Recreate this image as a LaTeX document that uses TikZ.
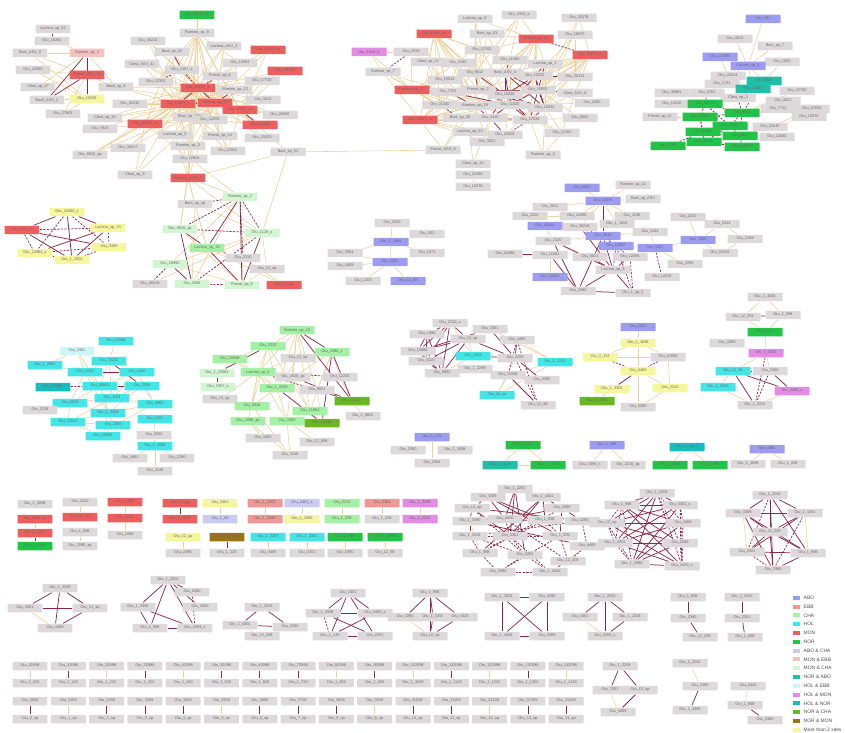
\documentclass[tikz,border=0pt]{standalone}
\usepackage{fontspec}
\setmainfont{Liberation Sans}
\usetikzlibrary{backgrounds}

\definecolor{cgray}{HTML}{DDD9DB}
\definecolor{cabo}{HTML}{9C9CF0}
\definecolor{cebb}{HTML}{F29696}
\definecolor{ccha}{HTML}{A4F0A4}
\definecolor{chol}{HTML}{42E6E6}
\definecolor{cmon}{HTML}{EE5E5E}
\definecolor{cnor}{HTML}{22C447}
\definecolor{cabocha}{HTML}{CBCBF2}
\definecolor{cmonebb}{HTML}{F5C2C2}
\definecolor{cmoncha}{HTML}{D2F6D2}
\definecolor{cnorabo}{HTML}{1FBFA8}
\definecolor{cholebb}{HTML}{CFF6F6}
\definecolor{cholmon}{HTML}{E58AE5}
\definecolor{cholnor}{HTML}{18BDBF}
\definecolor{cnorcha}{HTML}{6AB820}
\definecolor{cnormon}{HTML}{9A7414}
\definecolor{cmulti}{HTML}{F6F69C}
\definecolor{cpos}{HTML}{EFCF98}
\definecolor{cneg}{HTML}{8E2747}

\begin{document}
\begin{tikzpicture}[
    x=0.02cm, y=-0.02cm,
    tx/.style={rounded corners=0.4pt, minimum width=0.7cm, minimum height=0.17cm, inner sep=0.3pt, font=\fontsize{2.2}{2.4}\selectfont, text=black!60},
    plain/.style={tx, fill=cgray},
    abo/.style={tx, fill=cabo},
    ebb/.style={tx, fill=cebb},
    cha/.style={tx, fill=ccha},
    hol/.style={tx, fill=chol},
    mon/.style={tx, fill=cmon},
    nor/.style={tx, fill=cnor},
    abocha/.style={tx, fill=cabocha},
    monebb/.style={tx, fill=cmonebb},
    moncha/.style={tx, fill=cmoncha},
    norabo/.style={tx, fill=cnorabo},
    holebb/.style={tx, fill=cholebb},
    holmon/.style={tx, fill=cholmon},
    holnor/.style={tx, fill=cholnor},
    norcha/.style={tx, fill=cnorcha},
    normon/.style={tx, fill=cnormon},
    multi/.style={tx, fill=cmulti},
    lnpos/.style={draw=cpos, line width=0.32pt},
    lnneg/.style={draw=cneg, line width=0.42pt},
    lnnegd/.style={lnneg, dash pattern=on 1.2pt off 0.8pt},
    swatch/.style={fill=#1, minimum width=0.14cm, minimum height=0.08cm, inner sep=0pt},
    legtext/.style={anchor=west, inner sep=0.5pt, font=\fontsize{2.8}{3.2}\selectfont, text=black!70}
]
\useasboundingbox (0,0) rectangle (845,733);

% cluster A
\node[plain] (a1) at (53,29) {Lachno\_sp\_52};
\node[plain] (a2) at (52,41) {Otu\_18281};
\node[monebb] (a3) at (87,53) {Rumino\_sp\_4};
\node[plain] (a4) at (30,53) {Bact\_ASV\_9};
\node[plain] (a5) at (33,70) {Otu\_12583};
\node[mon] (a6) at (87,75) {Prevot\_ASV\_31};
\node[plain] (a7) at (38,87) {Clost\_sp\_17};
\node[plain] (a8) at (47,100) {Bacil\_ASV\_2};
\node[multi] (a9) at (87,99) {Otu\_10293};
\node[plain] (a10) at (63,114) {Otu\_27801};

% cluster B
\node[nor] (b1) at (197,15) {Otu\_3318\_na};
\node[plain] (b2) at (197,33) {Rumino\_sp\_8};
\node[plain] (b3) at (148,41) {Otu\_40213};
\node[plain] (b4) at (224,46) {Lachno\_ASV\_3};
\node[mon] (b5) at (268,50) {Otu\_20119\_m};
\node[plain] (b6) at (172,52) {Bact\_sp\_22};
\node[plain] (b7) at (240,63) {Otu\_11584};
\node[plain] (b8) at (142,64) {Clost\_ASV\_41};
\node[plain] (b9) at (182,70) {Otu\_2107\_s};
\node[mon] (b10) at (285,71) {Otu\_30218};
\node[plain] (b11) at (220,76) {Prevot\_sp\_6};
\node[plain] (b12) at (156,82) {Otu\_13302};
\node[plain] (b13) at (262,81) {Otu\_17720};
\node[plain] (b14) at (116,87) {Bacil\_sp\_9};
\node[mon] (b15) at (198,88) {Otu\_10881\_m};
\node[plain] (b16) at (235,90) {Rumino\_sp\_12};
\node[mon] (b17) at (178,104) {Otu\_11891\_s};
\node[mon] (b18) at (215,103) {Lachno\_sp\_70};
\node[plain] (b19) at (263,100) {Otu\_3512};
\node[plain] (b20) at (130,104) {Otu\_42310};
\node[mon] (b21) at (240,110) {Otu\_12397\_m};
\node[plain] (b22) at (190,117) {Bact\_sp\_ASV};
\node[plain] (b23) at (210,120) {Otu\_12250};
\node[plain] (b24) at (280,115) {Otu\_29402};
\node[plain] (b25) at (105,118) {Clost\_sp\_30};
\node[mon] (b26) at (145,124) {Otu\_11021\_m};
\node[plain] (b27) at (100,129) {Otu\_7014};
\node[mon] (b28) at (260,125) {Otu\_12845};
\node[plain] (b29) at (175,135) {Lachno\_sp\_5};
\node[plain] (b30) at (220,136) {Prevot\_sp\_14};
\node[plain] (b31) at (262,138) {Otu\_15520};
\node[plain] (b32) at (188,146) {Rumino\_sp\_3};
\node[plain] (b33) at (128,148) {Otu\_30017};
\node[plain] (b34) at (228,151) {Otu\_12001};
\node[plain] (b35) at (288,152) {Bact\_sp\_51};
\node[plain] (b36) at (90,155) {Otu\_6623\_sp};
\node[plain] (b37) at (190,159) {Otu\_12904};
\node[plain] (b38) at (135,175) {Clost\_sp\_8};
\node[mon] (b39) at (188,178) {Rumino\_ASV\_2};

% cluster C
\node[plain] (c1) at (519,15) {Otu\_3310\_s};
\node[plain] (c2) at (475,19) {Lachno\_sp\_9};
\node[plain] (c3) at (579,18) {Otu\_20178};
\node[mon] (c4) at (434,34) {Otu\_11942\_m};
\node[plain] (c5) at (487,34) {Bact\_sp\_63};
\node[mon] (c6) at (536,39) {Prevot\_sp\_41};
\node[plain] (c7) at (575,35) {Otu\_18870};
\node[holmon] (c8) at (369,52) {Otu\_1038\_h};
\node[plain] (c9) at (411,52) {Otu\_2219};
\node[plain] (c10) at (482,50) {Otu\_12702};
\node[mon] (c11) at (590,55) {Otu\_10442\_m};
\node[plain] (c12) at (428,62) {Clost\_sp\_12};
\node[plain] (c13) at (383,72) {Rumino\_sp\_7};
\node[plain] (c14) at (458,63) {Otu\_4102};
\node[plain] (c15) at (510,60) {Otu\_11380};
\node[plain] (c16) at (545,64) {Lachno\_sp\_1};
\node[plain] (c17) at (475,73) {Otu\_9012};
\node[plain] (c18) at (505,73) {Bact\_ASV\_4};
\node[plain] (c19) at (535,76) {Otu\_12203};
\node[plain] (c20) at (575,77) {Otu\_30114};
\node[plain] (c21) at (445,80) {Otu\_15512};
\node[mon] (c22) at (412,90) {Lachno\_sp\_33};
\node[plain] (c23) at (448,92) {Otu\_7731};
\node[plain] (c24) at (478,90) {Prevot\_sp\_2};
\node[plain] (c25) at (505,95) {Otu\_12240};
\node[plain] (c26) at (538,90) {Otu\_10051};
\node[plain] (c27) at (575,93) {Clost\_ASV\_6};
\node[plain] (c28) at (592,103) {Otu\_2280};
\node[plain] (c29) at (440,105) {Otu\_21330};
\node[plain] (c30) at (475,106) {Rumino\_sp\_19};
\node[plain] (c31) at (510,105) {Otu\_11820};
\node[plain] (c32) at (545,108) {Otu\_12931};
\node[mon] (c33) at (420,120) {Otu\_10917\_m};
\node[plain] (c34) at (460,118) {Bact\_sp\_30};
\node[plain] (c35) at (490,118) {Otu\_4410};
\node[plain] (c36) at (530,120) {Otu\_17034};
\node[plain] (c37) at (580,118) {Otu\_6602};
\node[plain] (c38) at (470,132) {Lachno\_sp\_21};
\node[plain] (c39) at (505,135) {Otu\_19204};
\node[plain] (c40) at (562,133) {Otu\_11301};
\node[plain] (c41) at (443,150) {Prevot\_ASV\_8};
\node[plain] (c42) at (487,142) {Otu\_3021};
\node[plain] (c43) at (473,164) {Clost\_sp\_44};
\node[plain] (c44) at (473,175) {Otu\_21093};
\node[plain] (c45) at (473,187) {Otu\_12276};
\node[plain] (c46) at (543,155) {Rumino\_sp\_5};

% cluster D
\node[abo] (d1) at (763,19) {Otu\_331};
\node[plain] (d2) at (735,39) {Otu\_4012};
\node[plain] (d3) at (775,46) {Bact\_sp\_7};
\node[abo] (d4) at (720,57) {Otu\_12208};
\node[plain] (d5) at (782,62) {Otu\_1093};
\node[abo] (d6) at (748,66) {Lachno\_sp\_4};
\node[plain] (d7) at (728,76) {Otu\_22014};
\node[norabo] (d8) at (764,81) {Otu\_5510};
\node[plain] (d9) at (722,84) {Otu\_1722};
\node[norabo] (d10) at (753,89) {Otu\_11087};
\node[plain] (d11) at (672,93) {Otu\_30981};
\node[plain] (d12) at (707,93) {Otu\_2201};
\node[plain] (d13) at (797,91) {Otu\_12750};
\node[plain] (d14) at (738,98) {Clost\_sp\_2};
\node[plain] (d15) at (672,104) {Otu\_13310};
\node[nor] (d16) at (705,104) {Otu\_10372};
\node[plain] (d17) at (783,101) {Otu\_4021};
\node[plain] (d18) at (812,109) {Otu\_12030};
\node[nor] (d19) at (742,113) {Otu\_6614};
\node[plain] (d20) at (778,109) {Otu\_7712};
\node[plain] (d21) at (660,117) {Prevot\_sp\_11};
\node[nor] (d22) at (700,117) {Otu\_11903};
\node[plain] (d23) at (809,117) {Otu\_12870};
\node[nor] (d24) at (730,126) {Otu\_3304};
\node[plain] (d25) at (770,127) {Otu\_21042};
\node[nor] (d26) at (703,132) {Otu\_1550};
\node[nor] (d27) at (740,136) {Otu\_9931};
\node[plain] (d28) at (777,137) {Otu\_12093};
\node[nor] (d29) at (668,146) {Otu\_3001};
\node[nor] (d30) at (704,142) {Otu\_2014};
\node[nor] (d31) at (742,147) {Otu\_19087};

% cluster E
\node[multi] (e1) at (67,212) {Otu\_10288\_s};
\node[mon] (e2) at (22,230) {Otu\_1102\_m};
\node[multi] (e3) at (108,228) {Lachno\_sp\_13};
\node[multi] (e4) at (35,253) {Otu\_12984\_s};
\node[multi] (e5) at (109,247) {Otu\_3309};
\node[multi] (e6) at (72,260) {Otu\_1\_2201};

% cluster F
\node[plain] (f1) at (195,204) {Bact\_sp\_sp};
\node[moncha] (f2) at (240,197) {Rumino\_sp\_2};
\node[moncha] (f3) at (180,229) {Otu\_8810\_sp};
\node[moncha] (f4) at (262,233) {Otu\_1129\_s};
\node[cha] (f5) at (207,248) {Lachno\_sp\_18};
\node[plain] (f6) at (243,258) {Otu\_2210};
\node[moncha] (f7) at (170,264) {Otu\_10991};
\node[plain] (f8) at (267,269) {Otu\_12\_sp};
\node[plain] (f9) at (150,284) {Otu\_40019};
\node[moncha] (f10) at (192,284) {Otu\_3308};
\node[moncha] (f11) at (242,285) {Prevot\_sp\_8};
\node[mon] (f12) at (284,285) {Otu\_20\_sp};

% cluster G
\node[plain] (g1) at (392,223) {Otu\_3310};
\node[abo] (g2) at (391,242) {Otu\_1\_1088};
\node[plain] (g3) at (427,234) {Otu\_552};
\node[plain] (g4) at (345,253) {Otu\_2904};
\node[plain] (g5) at (427,253) {Otu\_1071};
\node[abo] (g6) at (390,262) {Otu\_3301};
\node[plain] (g7) at (345,266) {Otu\_4409};
\node[plain] (g8) at (363,281) {Otu\_1203};
\node[abo] (g9) at (408,281) {Otu\_12\_88};

% cluster H
\node[abo] (h1) at (582,188) {Otu\_5501};
\node[plain] (h2) at (633,185) {Rumino\_sp\_41};
\node[abo] (h3) at (603,201) {Otu\_10293};
\node[plain] (h4) at (643,199) {Bact\_sp\_ASV};
\node[plain] (h5) at (550,207) {Otu\_3012};
\node[plain] (h6) at (530,216) {Otu\_2220};
\node[plain] (h7) at (577,216) {Otu\_12090};
\node[plain] (h8) at (632,216) {Otu\_1108};
\node[abo] (h9) at (545,226) {Otu\_12044};
\node[plain] (h10) at (580,227) {Otu\_30218};
\node[plain] (h11) at (617,224) {Otu\_1\_1002};
\node[abo] (h12) at (603,236) {Otu\_9910};
\node[plain] (h13) at (553,241) {Otu\_2120};
\node[plain] (h14) at (650,232) {Otu\_1204};
\node[abo] (h15) at (616,246) {Otu\_10887};
\node[abo] (h16) at (655,248) {Otu\_3307};
\node[plain] (h17) at (505,254) {Otu\_11098};
\node[plain] (h18) at (550,255) {Otu\_11002};
\node[plain] (h19) at (590,257) {Otu\_4021};
\node[plain] (h20) at (630,257) {Otu\_12206};
\node[plain] (h21) at (685,264) {Otu\_2209};
\node[plain] (h22) at (613,270) {Lachno\_sp\_3};
\node[abo] (h23) at (550,277) {Otu\_10331};
\node[plain] (h24) at (662,277) {Otu\_12010};
\node[plain] (h25) at (578,291) {Otu\_3390};
\node[plain] (h26) at (633,293) {Otu\_1\_sp\_2};

% cluster I
\node[plain] (i1) at (688,217) {Otu\_2210};
\node[plain] (i2) at (722,224) {Otu\_1044};
\node[abo] (i3) at (698,240) {Otu\_3380};
\node[plain] (i4) at (745,239) {Otu\_2109};
\node[plain] (i5) at (720,253) {Otu\_10432};

% cluster J
\node[hol] (j1) at (116,341) {Otu\_12098};
\node[holebb] (j2) at (77,351) {Otu\_3301};
\node[hol] (j3) at (109,361) {Otu\_10221};
\node[hol] (j4) at (45,365) {Otu\_1\_0982};
\node[hol] (j5) at (85,372) {Otu\_2210};
\node[hol] (j6) at (137,372) {Otu\_4410};
\node[holnor] (j7) at (53,387) {Otu\_12093};
\node[hol] (j8) at (100,386) {Otu\_30881};
\node[hol] (j9) at (142,386) {Otu\_2208};
\node[hol] (j10) at (112,398) {Otu\_1103};
\node[hol] (j11) at (70,403) {Otu\_5520};
\node[hol] (j12) at (155,404) {Otu\_9902};
\node[plain] (j13) at (40,410) {Otu\_2119};
\node[hol] (j14) at (108,413) {Otu\_1\_3309};
\node[hol] (j15) at (68,422) {Otu\_12041};
\node[hol] (j16) at (113,425) {Otu\_3306};
\node[hol] (j17) at (155,419) {Otu\_1201};
\node[hol] (j18) at (103,436) {Otu\_10982};
\node[plain] (j19) at (154,435) {Otu\_2030};
\node[hol] (j20) at (155,446) {Otu\_1\_1098};
\node[plain] (j21) at (130,458) {Otu\_4401};
\node[plain] (j22) at (177,458) {Otu\_2290};
\node[plain] (j23) at (155,471) {Otu\_1109};

% cluster K
\node[cha] (k1) at (297,330) {Rumino\_sp\_10};
\node[cha] (k2) at (268,346) {Otu\_2210};
\node[cha] (k3) at (230,359) {Otu\_10998};
\node[cha] (k4) at (332,352) {Otu\_3390\_s};
\node[plain] (k5) at (298,358) {Otu\_12\_sp};
\node[cha] (k6) at (258,372) {Lachno\_sp\_8};
\node[moncha] (k7) at (217,373) {Otu\_1\_20981};
\node[plain] (k8) at (293,377) {Otu\_4420\_sp};
\node[plain] (k9) at (340,377) {Otu\_12203};
\node[moncha] (k10) at (218,387) {Otu\_3307\_s};
\node[cha] (k11) at (277,388) {Otu\_1\_2209};
\node[plain] (k12) at (317,390) {Otu\_9021};
\node[plain] (k13) at (220,399) {Otu\_10\_sp};
\node[norcha] (k14) at (352,401) {Otu\_2219\_s};
\node[cha] (k15) at (252,406) {Otu\_3018};
\node[cha] (k16) at (310,411) {Otu\_11904};
\node[plain] (k17) at (363,416) {Otu\_2\_8801};
\node[cha] (k18) at (248,421) {Otu\_1098\_sp};
\node[cha] (k19) at (287,421) {Otu\_3390};
\node[norcha] (k20) at (322,423) {Otu\_12288};
\node[plain] (k21) at (263,438) {Otu\_4402};
\node[plain] (k22) at (317,442) {Otu\_12\_098};
\node[plain] (k23) at (290,455) {Otu\_3110};

% cluster L
\node[plain] (l1) at (450,323) {Otu\_2210\_s};
\node[plain] (l2) at (427,334) {Otu\_1098};
\node[plain] (l3) at (490,329) {Otu\_3301};
\node[plain] (l4) at (468,339) {Otu\_12\_sp};
\node[plain] (l5) at (517,340) {Otu\_4490};
\node[plain] (l6) at (418,351) {Otu\_10882};
\node[hol] (l7) at (473,356) {Otu\_1203};
\node[plain] (l8) at (515,358) {Otu\_2209};
\node[hol] (l9) at (555,362) {Otu\_1\_3370};
\node[plain] (l10) at (426,361) {Otu\_3310};
\node[plain] (l11) at (475,369) {Otu\_1\_2299};
\node[plain] (l12) at (442,373) {Otu\_9902};
\node[plain] (l13) at (508,375) {Otu\_12208};
\node[plain] (l14) at (542,380) {Otu\_2290};
\node[hol] (l15) at (497,395) {Otu\_10\_sp};
\node[plain] (l16) at (538,405) {Otu\_12\_98};

% cluster M
\node[abo] (m1) at (638,327) {Otu\_2201};
\node[multi] (m2) at (638,343) {Otu\_1\_1098};
\node[multi] (m3) at (600,357) {Otu\_3\_112};
\node[plain] (m4) at (668,357) {Otu\_12093};
\node[multi] (m5) at (638,371) {Otu\_4409};
\node[multi] (m6) at (612,389) {Otu\_1\_3301};
\node[multi] (m7) at (670,388) {Otu\_2210};
\node[norcha] (m8) at (597,401) {Otu\_1\_2091};
\node[plain] (m9) at (638,407) {Otu\_3390};

% cluster N
\node[plain] (n1) at (765,297) {Otu\_1\_1020};
\node[plain] (n2) at (743,317) {Otu\_12\_203};
\node[plain] (n3) at (783,315) {Otu\_1\_998};
\node[nor] (n4) at (765,332) {Otu\_2210};
\node[plain] (n5) at (727,343) {Otu\_3309};
\node[holmon] (n6) at (766,353) {Otu\_1\_4401};
\node[hol] (n7) at (733,371) {Otu\_12\_09};
\node[plain] (n8) at (770,371) {Otu\_2208};
\node[hol] (n9) at (718,387) {Otu\_1\_3320};
\node[holmon] (n10) at (792,391) {Otu\_4490\_s};
\node[plain] (n11) at (755,405) {Otu\_1\_2201};

% row of small groups
\node[abo] (p1) at (432,437) {Otu\_1\_203};
\node[plain] (p2) at (408,450) {Otu\_2290};
\node[plain] (p3) at (455,450) {Otu\_1\_1098};
\node[plain] (p4) at (432,463) {Otu\_3304};
\node[nor] (q1) at (523,445) {Otu\_1\_2201};
\node[norabo] (q2) at (500,465) {Otu\_4\_sp\_8};
\node[nor] (q3) at (548,465) {Otu\_12\_209};
\node[abo] (r1) at (607,445) {Otu\_1\_998};
\node[plain] (r2) at (590,465) {Otu\_3390\_s};
\node[plain] (r3) at (628,465) {Otu\_2210\_sp};
\node[holnor] (s1) at (687,447) {Otu\_3\_sp\_2};
\node[nor] (s2) at (670,465) {Otu\_1\_2203};
\node[nor] (s3) at (710,465) {Otu\_1\_790};
\node[abo] (t1) at (767,449) {Otu\_4401};
\node[plain] (t2) at (748,464) {Otu\_1\_1098};
\node[plain] (t3) at (788,464) {Otu\_1\_209};

% left columns
\node[plain] (u1) at (35,504) {Otu\_1\_2098};
\node[mon] (u2) at (35,519) {Otu\_3309\_m};
\node[mon] (u3) at (35,533) {Otu\_1\_2201};
\node[nor] (u4) at (35,546) {Otu\_1\_4409};
\node[plain] (u5) at (80,502) {Otu\_2210};
\node[mon] (u6) at (80,517) {Otu\_10\_sp};
\node[plain] (u7) at (80,532) {Otu\_1\_098};
\node[plain] (u8) at (80,546) {Otu\_3390\_sp};
\node[mon] (u9) at (125,502) {Otu\_1\_203};
\node[mon] (u10) at (125,518) {Otu\_4420};
\node[plain] (u11) at (125,535) {Otu\_1098};

% pairs
\node[mon] (v1) at (180,503) {Otu\_12\_sp};
\node[mon] (v2) at (180,519) {Otu\_1\_2209};
\node[multi] (v3) at (220,503) {Otu\_3301};
\node[abocha] (v4) at (220,519) {Otu\_1\_09};
\node[ebb] (v5) at (265,503) {Otu\_1\_2203};
\node[ebb] (v6) at (265,519) {Otu\_1\_2098};
\node[abocha] (v7) at (302,503) {Otu\_4401\_s};
\node[multi] (v8) at (302,519) {Otu\_1\_3390};
\node[cha] (v9) at (342,503) {Otu\_2210};
\node[cha] (v10) at (342,519) {Otu\_1\_209};
\node[ebb] (v11) at (382,503) {Otu\_3304};
\node[plain] (v12) at (382,519) {Otu\_1\_209};
\node[holmon] (v13) at (420,503) {Otu\_1\_4409};
\node[holmon] (v14) at (420,519) {Otu\_1\_2201};
\node[multi] (v15) at (183,537) {Otu\_12\_sp};
\node[plain] (v16) at (183,553) {Otu\_2298};
\node[normon] (v17) at (227,537) {Otu\_3309\_s};
\node[plain] (v18) at (227,553) {Otu\_1\_120};
\node[hol] (v19) at (268,537) {Otu\_1\_2203};
\node[plain] (v20) at (268,553) {Otu\_4409};
\node[hol] (v21) at (307,537) {Otu\_1\_3301};
\node[plain] (v22) at (307,553) {Otu\_2201};
\node[nor] (v23) at (345,537) {Otu\_1\_998};
\node[plain] (v24) at (345,553) {Otu\_3390};
\node[nor] (v25) at (385,537) {Otu\_1\_2209};
\node[plain] (v26) at (385,553) {Otu\_12\_98};

% dense cluster P
\node[plain] (w1) at (515,489) {Otu\_1\_2201};
\node[plain] (w2) at (488,497) {Otu\_3309};
\node[plain] (w3) at (543,497) {Otu\_1\_4401};
\node[plain] (w4) at (472,508) {Otu\_12\_sp};
\node[plain] (w5) at (562,508) {Otu\_2209};
\node[plain] (w6) at (470,521) {Otu\_1\_3390};
\node[plain] (w7) at (505,519) {Otu\_4420};
\node[plain] (w8) at (545,520) {Otu\_1\_098};
\node[plain] (w9) at (582,521) {Otu\_2290\_s};
\node[plain] (w10) at (470,536) {Otu\_1\_2203};
\node[plain] (w11) at (510,536) {Otu\_3301};
\node[plain] (w12) at (560,536) {Otu\_1\_209};
\node[plain] (w13) at (587,546) {Otu\_4409};
\node[plain] (w14) at (480,553) {Otu\_1\_998};
\node[plain] (w15) at (525,555) {Otu\_2201};
\node[plain] (w16) at (568,561) {Otu\_12\_209};
\node[plain] (w17) at (498,572) {Otu\_3390};
\node[plain] (w18) at (550,572) {Otu\_1\_4420};

% dense cluster Q
\node[plain] (x1) at (657,493) {Otu\_1\_2209};
\node[plain] (x2) at (622,505) {Otu\_1\_998};
\node[plain] (x3) at (680,505) {Otu\_3301\_s};
\node[plain] (x4) at (607,523) {Otu\_12\_sp};
\node[plain] (x5) at (683,523) {Otu\_4409};
\node[plain] (x6) at (615,543) {Otu\_1\_2201};
\node[plain] (x7) at (680,543) {Otu\_2290};
\node[plain] (x8) at (632,564) {Otu\_1\_3390};
\node[plain] (x9) at (682,566) {Otu\_4420\_s};

% dense cluster R
\node[plain] (y1) at (770,495) {Otu\_1\_2203};
\node[plain] (y2) at (743,513) {Otu\_3309};
\node[plain] (y3) at (805,513) {Otu\_1\_4401};
\node[plain] (y4) at (770,532) {Otu\_12\_209};
\node[plain] (y5) at (747,552) {Otu\_2201};
\node[plain] (y6) at (808,553) {Otu\_1\_998};
\node[plain] (y7) at (773,570) {Otu\_3390};

% small groups
\node[plain] (z1) at (60,588) {Otu\_1\_2209};
\node[plain] (z2) at (25,608) {Otu\_3301};
\node[plain] (z3) at (90,608) {Otu\_12\_sp};
\node[plain] (z4) at (55,628) {Otu\_4409};
\node[plain] (z5) at (168,580) {Otu\_1\_2201};
\node[plain] (z6) at (192,592) {Otu\_2290};
\node[plain] (z7) at (138,607) {Otu\_1\_3390};
\node[plain] (z8) at (200,607) {Otu\_4420};
\node[plain] (z9) at (150,628) {Otu\_1\_998};
\node[plain] (z10) at (195,628) {Otu\_3309\_s};
\node[plain] (z11) at (262,607) {Otu\_1\_2203};
\node[plain] (z12) at (240,625) {Otu\_1\_4401};
\node[plain] (z13) at (290,627) {Otu\_2209};
\node[plain] (z14) at (262,636) {Otu\_12\_209};
\node[plain] (z15) at (348,593) {Otu\_3301};
\node[plain] (z16) at (323,613) {Otu\_1\_2098};
\node[plain] (z17) at (375,613) {Otu\_4409\_s};
\node[plain] (z18) at (330,636) {Otu\_1\_120};
\node[plain] (z19) at (375,636) {Otu\_2201};
\node[plain] (z20) at (430,593) {Otu\_1\_998};
\node[plain] (z21) at (405,617) {Otu\_3390};
\node[plain] (z22) at (433,617) {Otu\_1\_2209};
\node[plain] (z23) at (460,617) {Otu\_4420};
\node[plain] (z24) at (430,636) {Otu\_12\_sp};
\node[plain] (z25) at (502,597) {Otu\_1\_3301};
\node[plain] (z26) at (547,597) {Otu\_2290};
\node[plain] (z27) at (502,636) {Otu\_1\_4409};
\node[plain] (z28) at (547,636) {Otu\_3309};
\node[plain] (z29) at (605,597) {Otu\_1\_2201};
\node[plain] (z30) at (580,617) {Otu\_4401};
\node[plain] (z31) at (630,617) {Otu\_1\_2203};
\node[plain] (z32) at (605,636) {Otu\_2209\_s};
\node[plain] (z33) at (688,597) {Otu\_1\_998};
\node[plain] (z34) at (688,618) {Otu\_3390};
\node[plain] (z35) at (700,637) {Otu\_12\_209};
\node[plain] (z36) at (742,597) {Otu\_1\_4420};
\node[plain] (z37) at (742,618) {Otu\_2201};
\node[plain] (z38) at (745,637) {Otu\_1\_098};

% bottom right groups
\node[plain] (o1) at (620,666) {Otu\_1\_2209};
\node[plain] (o2) at (610,690) {Otu\_3301};
\node[plain] (o3) at (640,690) {Otu\_12\_sp};
\node[plain] (o4) at (618,712) {Otu\_4409};
\node[plain] (o5) at (690,663) {Otu\_1\_2201};
\node[plain] (o6) at (700,686) {Otu\_2290};
\node[plain] (o7) at (690,710) {Otu\_1\_3390};
\node[plain] (o8) at (748,686) {Otu\_4420};
\node[plain] (o9) at (745,705) {Otu\_1\_998};
\node[plain] (o10) at (765,720) {Otu\_3309};

% grid of pairs
\foreach \i/\sa/\sb in {0/lnpos/lnneg, 1/lnneg/lnpos, 2/lnpos/lnneg, 3/lnneg/lnneg, 4/lnpos/lnneg, 5/lnneg/lnpos, 6/lnneg/lnneg, 7/lnneg/lnneg, 8/lnpos/lnneg, 9/lnneg/lnpos, 10/lnpos/lnneg, 11/lnneg/lnneg, 12/lnpos/lnpos, 13/lnneg/lnneg, 14/lnpos/lnneg} {
  \node[plain] (ga\i) at ({30+38.3*\i},666) {Otu\_\i 2098};
  \node[plain] (gb\i) at ({30+38.3*\i},683) {Otu\_1\_\i 20};
  \node[plain] (gc\i) at ({30+38.3*\i},701) {Otu\_3\i 09};
  \node[plain] (gd\i) at ({30+38.3*\i},719) {Otu\_\i\_sp};
  \draw[\sa] (ga\i) -- (gb\i);
  \draw[\sb] (gc\i) -- (gd\i);
}

% legend
\foreach \c/\t [count=\i] in {cabo/ABO, cebb/EBB, ccha/CHA, chol/HOL, cmon/MON, cnor/NOR, cabocha/{ABO \& CHA}, cmonebb/{MON \& EBB}, cmoncha/{MON \& CHA}, cnorabo/{NOR \& ABO}, cholebb/{HOL \& EBB}, cholmon/{HOL \& MON}, cholnor/{HOL \& NOR}, cnorcha/{NOR \& CHA}, cnormon/{NOR \& MON}, cmulti/{More than 2 sites}} {
  \node[swatch=\c] (sw\i) at (796,{589+8.8*\i}) {};
  \node[legtext] (lt\i) at ([xshift=1.5pt]sw\i.east) {\t};
}

\begin{scope}[on background layer]
% positive links
\foreach \u/\v in {a3/a2, a4/a6, a5/a6, a7/a6, a7/a3, a6/a10, a9/a8, a4/a9, a5/a9, a6/b14, a3/b14, a3/a4, a10/a9,
  b2/b1, b2/b9, b2/b11, b2/b15, b2/b17, b2/b18, b2/b22, b2/b23, b2/b29, b2/b32, b2/b37, b2/b12, b2/b7, b4/b15, b4/b18, b4/b11, b6/b15, b6/b17, b3/b15, b3/b17, b8/b15, b8/b18, b9/b21, b11/b21, b12/b18, b12/b15, b14/b15, b14/b17, b14/b18, b16/b17, b16/b26, b13/b15, b13/b17, b19/b17, b19/b18, b5/b18, b5/b15, b10/b18, b10/b21, b20/b18, b20/b15, b25/b17, b25/b18, b26/b15, b26/b18, b26/b22, b27/b26, b33/b18, b33/b15, b36/b26, b36/b17, b24/b21, b28/b18, b28/b15, b31/b21, b30/b17, b30/b15, b32/b18, b34/b17, b34/b15, b35/b39, b35/b21, b37/b15, b37/b18, b38/b26, b29/b26, b39/b15, b39/b17, b39/b18, b39/b22, b39/b29, b39/b37, b39/b32, b23/b26, b22/b28, b35/c41,
  b2/b26, b2/b21, b2/b30, b3/b18, b6/b18, b6/b26, b8/b17, b9/b17, b9/b18, b11/b17, b11/b26, b12/b17, b12/b21, b13/b18, b13/b21, b16/b15, b19/b15, b20/b17, b24/b18, b24/b15, b25/b15, b26/b17, b29/b18, b29/b15, b30/b18, b31/b18, b32/b15, b32/b17, b34/b18, b34/b21, b37/b17, b37/b26, b38/b17, b38/b18, b33/b17, b36/b18, b27/b17, b22/b15, b23/b15, b23/b17, b28/b17, b10/b15, b5/b21, b7/b15, b7/b18, b4/b17, b1/b15, b36/b15,
  c4/c10, c4/c14, c4/c17, c4/c21, c4/c23, c4/c24, c4/c29, c4/c12, c4/c15, c22/c14, c22/c17, c22/c23, c22/c24, c22/c25, c22/c29, c22/c30, c22/c34, c22/c21, c33/c23, c33/c24, c33/c29, c33/c30, c33/c34, c33/c35, c33/c38, c33/c41, c33/c17, c13/c22, c13/c33, c6/c10, c6/c15, c6/c16, c6/c18, c6/c19, c6/c26, c6/c24, c6/c2, c6/c1, c6/c5, c11/c16, c11/c19, c11/c20, c11/c26, c11/c27, c11/c32, c11/c31, c11/c25, c11/c24, c11/c18, c7/c20, c3/c11, c28/c26, c37/c32, c37/c26, c40/c32, c40/c36, c40/c46, c27/c40, c42/c35, c42/c30, c38/c43, c43/c44, c44/c45, c41/c34, c39/c31, c9/c12, c8/c9, c8/c13, c12/c21, c2/c10, c1/c15, c5/c14, c10/c17, c4/c30, c22/c35, c33/c25, c6/c25, c11/c36,
  c1/c17, c1/c24, c2/c17, c2/c24, c5/c18, c5/c24, c10/c25, c10/c30, c14/c30, c14/c23, c15/c25, c15/c31, c16/c26, c16/c32, c4/c25, c4/c31, c4/c35, c22/c31, c22/c36, c22/c26, c33/c31, c33/c36, c33/c39, c33/c42, c33/c26, c12/c23, c12/c29, c21/c30, c21/c24, c6/c31, c6/c30, c6/c36, c11/c35, c11/c30, c11/c39, c3/c26, c3/c32, c7/c26, c7/c19, c27/c32, c28/c31, c37/c36, c40/c31, c46/c36, c46/c32, c43/c35, c41/c30, c13/c29, c8/c22, c9/c22, c13/c23, c4/c33,
  d1/d6, d2/d6, d3/d6, d4/d6, d4/d7, d6/d7, d6/d8, d6/d10, d5/d8, d11/d14, d12/d14, d15/d16, d21/d22, d13/d19, d17/d19, d9/d12, d7/d10, d18/d25, d23/d25, d28/d27,
  f1/f4, f1/f5, f1/f10, f2/f7, f2/f10, f4/f7, f4/f9, f5/f12, f6/f12, f8/f11, f7/f11, f4/f8, f6/f11, b39/f1, b39/f2, b39/f3, b39/f5, b39/f4, b37/f2, b37/f3, b35/f4, f3/f11,
  g1/g2, g2/g3, g2/g5, g2/g6, g4/g6, g6/g7, g6/g8, g6/g9, g2/g4,
  h1/h3, h2/h3, h3/h5, h3/h7, h3/h8, h3/h10, h3/h11, h5/h7, h6/h7, h9/h10, h12/h14, h12/h13, h15/h16, h16/h14, h16/h21, h17/h18, h12/h15, h13/h19, h4/h3, h9/h13, h15/h19, h20/h16, h23/h18, i3/h16,
  i1/i3, i2/i4, i3/i5, i4/i5, i2/i3,
  j1/j3, j2/j5, j2/j8, j3/j5, j3/j8, j3/j10, j5/j8, j5/j11, j5/j14, j6/j8, j6/j10, j8/j11, j8/j14, j8/j16, j9/j10, j9/j14, j10/j11, j10/j15, j11/j14, j11/j13, j12/j14, j12/j16, j14/j15, j14/j16, j15/j16, j15/j18, j16/j18, j12/j9, j17/j19, j19/j20, j20/j21, j20/j22, j20/j23, j11/j15, j4/j5, j2/j4, j12/j10, j6/j12, j3/j6, j14/j18,
  k1/k2, k1/k6, k1/k8, k1/k11, k1/k12, k1/k16, k1/k19, k2/k6, k2/k3, k2/k11, k2/k15, k3/k6, k4/k8, k4/k12, k4/k16, k5/k6, k6/k11, k6/k15, k6/k18, k6/k19, k8/k11, k8/k16, k11/k15, k11/k19, k12/k20, k14/k17, k16/k19, k16/k20, k18/k21, k19/k22, k19/k23, k15/k23, k3/k10, k6/k13, k18/k23, k4/k9, k9/k14, k3/k11, k2/k16, k5/k11,
  l9/l13, l9/l15, l9/l5, l7/l11, l15/l13, l15/l8, l3/l9, l7/l12, l11/l13, l4/l7, l1/l7,
  m1/m2, m2/m3, m2/m4, m3/m4, m5/m6, m5/m7, m5/m9, m6/m8, m7/m9, m4/m7, m2/m5,
  n1/n2, n1/n3, n2/n4, n3/n4, n4/n6, n6/n7, n6/n8, n7/n9, n9/n11, n10/n11, n5/n6,
  p1/p4, q1/q2, q1/q3, q2/q3, r1/r2, r1/r3, s1/s2, s1/s3, t1/t2, t1/t3,
  u2/u3, u9/u10, u10/u11, u5/u6, u7/u8,
  v3/v4, v5/v6, v7/v8, v9/v10, v11/v12, v13/v14, v15/v16, v19/v20, v21/v22, v23/v24, v25/v26,
  w1/w5, w6/w14, w13/w18, y2/y5, y3/y6, z2/z4, z12/z14, z21/z24, z30/z32, o2/o4, o5/o6, o8/o9}
  \draw[lnpos] (\u) -- (\v);
% negative links
\foreach \u/\v in {a3/a6, a3/a8, a6/a8, a6/a9, a3/a9, a1/a2,
  b15/b17, b17/b18, b18/b21, b15/b18, b16/b18, b21/b28, b22/b23, b6/b9,
  c18/c19, c18/c25, c19/c26, c19/c25, c25/c31, c26/c32, c25/c32, c24/c31, c31/c35, c31/c36, c32/c36, c30/c35, c35/c36, c24/c25, c26/c31, c19/c32, c18/c26, c17/c24, c23/c30, c30/c31, c16/c19, c15/c18, c35/c39, c19/c20, c26/c27, c25/c36, c24/c32,
  c17/c25, c18/c31, c23/c31, c24/c26, c19/c31, c26/c36, c25/c35, c18/c32, c31/c32, c16/c26,
  e1/e2, e1/e6, e1/e3, e3/e4, e2/e6, e2/e5, e3/e6, e4/e6,
  f2/f5, f5/f11, f3/f5, f2/f11, f4/f11, f7/f10, f3/f10,
  h3/h12, h12/h22, h12/h25, h13/h25, h19/h22, h20/h22, h22/h25, h22/h26, h25/h26, h18/h25, h10/h22, h13/h22, h17/h18, h10/h12,
  j5/j6, j8/j9, j3/j9,
  k1/k4, k1/k14, k4/k20, k2/k7, k11/k20, k8/k14, k7/k10, k4/k14,
  l1/l2, l1/l6, l1/l10, l1/l12, l2/l6, l2/l10, l4/l6, l4/l10, l4/l12, l6/l12, l10/l12, l3/l8, l5/l8, l8/l14, l13/l16, l4/l8, l7/l8, l1/l4, l3/l6, l2/l12, l6/l10,
  m6/m5, n2/n3, n7/n11, n7/n10, n8/n10, n7/n8, u3/u4,
  w1/w2, w1/w3, w1/w7, w1/w11, w1/w15, w2/w4, w2/w7, w2/w8, w2/w12, w3/w5, w3/w8, w3/w11, w3/w14, w4/w6, w4/w11, w4/w9, w5/w9, w5/w12, w5/w7, w6/w10, w6/w8, w6/w13,
  x1/x2, x1/x3, x1/x4, x1/x6, x1/x8, x2/x3, x2/x5, x2/x7, x2/x9, x3/x4, x3/x6, x3/x8, x4/x5, x4/x7, x4/x9, x5/x6, x5/x8, x6/x7, x6/x9, x7/x8, x8/x9,
  y1/y2, y1/y3, y1/y4, y1/y6, y1/y7, y2/y3, y2/y4, y2/y6, y3/y4, y3/y5, y4/y5, y4/y6, y4/y7, y5/y6, y6/y7, y2/y7,
  z1/z2, z1/z3, z1/z4, z2/z3, z3/z4, z5/z7, z5/z9, z5/z10, z5/z8, z7/z9, z9/z10, z5/z6, z7/z10, z11/z12, z11/z13, z12/z13, z15/z16, z15/z17, z15/z18, z15/z19, z16/z17, z16/z19, z17/z18, z18/z19, z20/z21, z20/z22, z20/z23, z22/z24, z23/z24, z20/z24, z25/z26, z25/z27, z25/z28, z26/z27, z26/z28, z27/z28, z29/z30, z29/z31, z29/z32, z31/z32, z33/z34, z34/z35, z36/z37, z37/z38, o1/o2, o1/o3, o3/o4, o6/o7, o9/o10, v1/v2, v17/v18}
  \draw[lnneg] (\u) -- (\v);
% dashed negative links
\foreach \u/\v in {b9/b15, b12/b9, b11/b15, c34/c35, c29/c34, c36/c39, c9/c13, c6/c11,
  d12/d16, d14/d16, d14/d19, d16/d19, d16/d22, d19/d22, d19/d24, d22/d24, d22/d26, d24/d26, d24/d27, d26/d27, d26/d30, d27/d31, d30/d31, d24/d30, d19/d27, d16/d24, d22/d30, d29/d30, d29/d26, d10/d14, d8/d19, d20/d19, d25/d27,
  e1/e4, e1/e5, e2/e3, e2/e4, e4/e5, e5/e6, e3/e5,
  f2/f3, f3/f4, f2/f4, f5/f6, f2/f6, f10/f11, f7/f9, f4/f10, f1/f2,
  h15/h22, h15/h26, h16/h24, h20/h26, h12/h20,
  j7/j8, k6/k14, k12/k14, k6/k9, l5/l13, l5/l16, l13/l14, l8/l16,
  m3/m5, m4/m5, n8/n11, n6/n11,
  w7/w11, w7/w16, w8/w12, w8/w14, w9/w13, w9/w10, w10/w14, w10/w15, w11/w15, w11/w18, w12/w16, w12/w17, w13/w16, w14/w17, w15/w17, w15/w18, w16/w18, w17/w18, w10/w12, w4/w15, w5/w14,
  x1/x5, x1/x7, x1/x9, x2/x4, x2/x6, x2/x8, x3/x5, x3/x7, x3/x9, x4/x6, x4/x8, x5/x7, x5/x9, x6/x8, x7/x9,
  y1/y5, y3/y7, y5/y7, z6/z10, z21/z22, z16/z18}
  \draw[lnnegd] (\u) -- (\v);
\end{scope}
\end{tikzpicture}
\end{document}
